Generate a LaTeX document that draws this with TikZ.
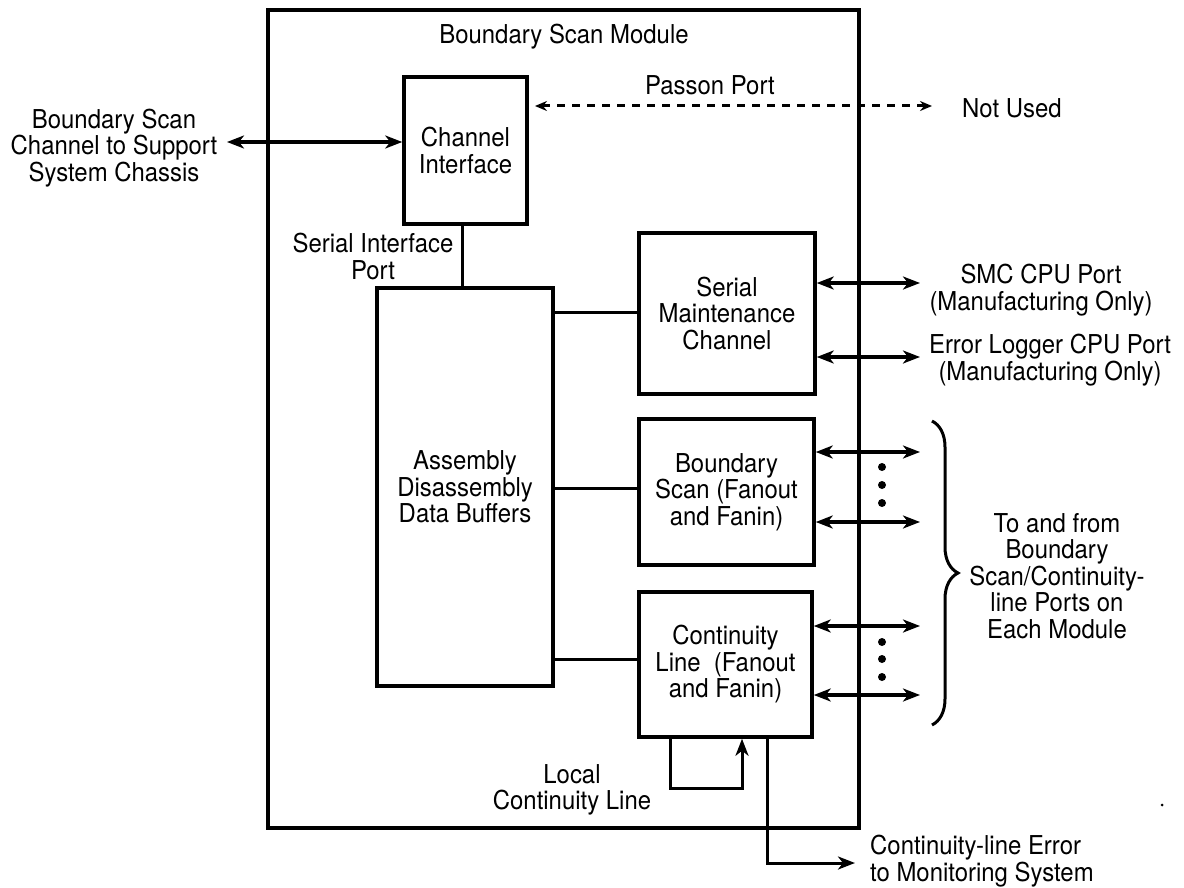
\documentclass[tikz,border=0pt]{standalone}
\usepackage{fontspec}
\setmainfont{TeX Gyre Heros}[FakeStretch=0.92]
\usetikzlibrary{arrows.meta,decorations.pathreplacing}
\begin{document}
\begin{tikzpicture}[x=1pt,y=-1pt,
  every node/.style={font=\fontsize{26}{26.5}\selectfont, inner sep=0pt, align=center},
  blk/.style={draw, line width=3.5pt},
  conn/.style={line width=3pt},
  tip/.tip={Stealth[length=17pt,width=13pt,inset=5pt]},
  stip/.tip={Stealth[length=12pt,width=10pt,inset=4pt]},
  arr/.style={line width=3.5pt, tip-tip},
  dasharr/.style={line width=3pt, dash pattern=on 8pt off 7pt, stip-stip},
  onearr/.style={line width=3pt, line join=miter, -tip},
  bracestyle/.style={line width=3pt, decorate, decoration={brace, amplitude=26pt}},
  dotstyle/.style={fill=black}
]
\useasboundingbox (0,0) rectangle (1184,888);

% outer module
\node[draw, line width=4.5pt, minimum width=591pt, minimum height=818pt] (module) at (563.5,419) {};
\node (modlabel) at (564,37) {Boundary Scan Module};

% blocks
\node[blk, minimum width=123pt, minimum height=147pt] (ci) at (465.5,150.5) {Channel\\Interface};
\node[blk, minimum width=176pt, minimum height=398pt] (add) at (465,487) {Assembly\\Disassembly\\Data Buffers};
\node[blk, minimum width=176pt, minimum height=161pt] (smc) at (727,313.5) {Serial\\Maintenance\\Channel};
\node[blk, minimum width=175pt, minimum height=146pt] (bs) at (726.5,492) {Boundary\\Scan (Fanout\\and Fanin)};
\node[blk, minimum width=173pt, minimum height=145pt] (cl) at (725.5,664.5) {Continuity\\Line\ \ (Fanout\\and Fanin)};

% labels
\node (chassis) at (114,148) {Boundary Scan\\Channel to Support\\System Chassis};
\node (siport) at (373,256.5) {Serial Interface\\Port};
\node (passon) at (710,85) {Passon Port};
\node[anchor=west] (notused) at (962,108) {Not Used};
\node (smcport) at (1041,290) {SMC CPU Port\\(Manufacturing Only)};
\node (elport) at (1050,360) {Error Logger CPU Port\\(Manufacturing Only)};
\node (tofrom) at (1057,576) {To and from\\Boundary\\Scan/Continuity-\\line Ports on\\Each Module};
\node (local) at (572,790) {Local\\Continuity Line};
\node[anchor=west, align=left] (errlabel) at (870,861) {Continuity-line Error\\to Monitoring System};

% coordinates
\coordinate (chassisP) at (227,142);
\coordinate (passL) at (535,106);
\coordinate (passR) at (932,106);
\coordinate (vx) at (462,0);
\coordinate (yS) at (0,312);
\coordinate (yB) at (0,488);
\coordinate (yC) at (0,659);
\coordinate (smcP1) at (920,283);
\coordinate (smcP2) at (920,357);
\coordinate (bsP1) at (920,452);
\coordinate (bsP2) at (920,522);
\coordinate (clP1) at (920,626);
\coordinate (clP2) at (920,695);
\coordinate (loopL) at (670,788);
\coordinate (loopR) at (742,788);
\coordinate (errC) at (767,863);
\coordinate (errP) at (855,863);
\coordinate (braceT) at (932,421);
\coordinate (braceB) at (932,725);

% connectors
\draw[arr] (chassisP) -- (ci.west |- chassisP);
\draw[dasharr] (passL) -- (passR);
\draw[conn] (ci.south -| vx) -- (add.north -| vx);
\draw[conn] (add.east |- yS) -- (smc.west |- yS);
\draw[conn] (add.east |- yB) -- (bs.west |- yB);
\draw[conn] (add.east |- yC) -- (cl.west |- yC);
\draw[arr] (smc.east |- smcP1) -- (smcP1);
\draw[arr] (smc.east |- smcP2) -- (smcP2);
\draw[arr] (bs.east |- bsP1) -- (bsP1);
\draw[arr] (bs.east |- bsP2) -- (bsP2);
\draw[arr] (cl.east |- clP1) -- (clP1);
\draw[arr] (cl.east |- clP2) -- (clP2);
\draw[onearr] (cl.south -| loopL) -- (loopL) -- (loopR) -- (cl.south -| loopR);
\draw[onearr] (cl.south -| errC) -- (errC) -- (errP);
\draw[bracestyle] (braceT) -- (braceB);

% dots
\foreach \yy in {467,485,503,642,659,677} \fill[dotstyle] (882,\yy) circle (4pt);
\fill[dotstyle] (1162,805) circle (1.5pt);
\end{tikzpicture}
\end{document}
